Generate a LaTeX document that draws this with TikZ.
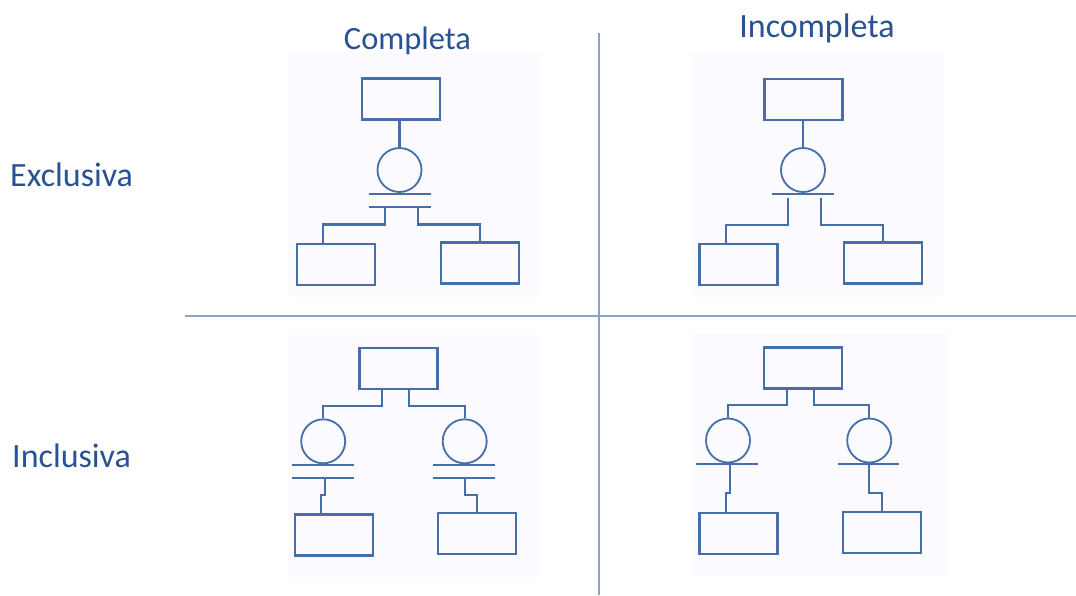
\documentclass[tikz,border=0pt]{standalone}
\usepackage{fontspec}
\setmainfont{Carlito}
\usepackage{tikz}
\usetikzlibrary{positioning, calc}
\definecolor{shapeblue}{RGB}{70, 110, 168}
\definecolor{labelblue}{RGB}{40, 82, 145}
\definecolor{ruleblue}{RGB}{136, 162, 202}
\definecolor{panelfill}{RGB}{250, 250, 255}

\begin{document}
\begin{tikzpicture}[
    x=1pt, y=-1pt,
    entity/.style={
        rectangle, draw=shapeblue, line width=2.2pt,
        minimum width=78pt, minimum height=41pt, inner sep=0pt
    },
    gen/.style={
        circle, draw=shapeblue, line width=1.8pt,
        minimum size=44pt, inner sep=0pt
    },
    bar/.style={draw=shapeblue, line width=2.2pt},
    link/.style={draw=shapeblue, line width=2.2pt},
    panel/.style={fill=panelfill, draw=none},
    divider/.style={draw=ruleblue, line width=2pt},
    heading/.style={font=\fontsize{34}{40}\selectfont, text=labelblue, inner sep=0pt}
]
\useasboundingbox (0,0) rectangle (1076,595);

% ==============================================================================
% GRID: PANELS, DIVIDERS & HEADINGS
% ==============================================================================
\fill[panel] (289,53) rectangle (540,297);
\fill[panel] (693,53) rectangle (943,297);
\fill[panel] (288,335) rectangle (540,577);
\fill[panel] (692,334) rectangle (948,576);

\draw[divider] (185,316) -- (1076,316);
\draw[divider] (599,33) -- (599,595);

\node[heading, font=\fontsize{32.5}{40}\selectfont, anchor=base] (colA) at (407.5,49) {Completa};
\node[heading, anchor=base] (colB) at (817,37) {Incompleta};
\node[heading, anchor=base west] (rowA) at (10,186) {Exclusiva};
\node[heading, anchor=base west] (rowB) at (12,467) {Inclusiva};

% ==============================================================================
% PANEL A: EXCLUSIVA / COMPLETA
% ==============================================================================
\node[entity] (aT) at (401,99) {};
\node[gen] (aC) at (399.5,170) {};
\node[entity] (aL) at (336.2,264.7) {};
\node[entity] (aR) at (480,263) {};

\coordinate (aB1) at ([yshift=-0.7pt]aC.south);
\coordinate (aB2) at ([yshift=-13.7pt]aC.south);
\draw[bar] ([xshift=-31pt]aB1) -- ([xshift=31pt]aB1);
\draw[bar] ([xshift=-31pt]aB2) -- ([xshift=31pt]aB2);

\draw[link] (aC.north |- aT.south) -- (aC.north);
\draw[link] ([xshift=-14.5pt]aB2) |- ([xshift=-13.5pt,yshift=18.6pt]aL.north) -- ([xshift=-13.5pt]aL.north);
\draw[link] ([xshift=18.8pt]aB2) |- ([yshift=17pt]aR.north) -- (aR.north);

% ==============================================================================
% PANEL B: EXCLUSIVA / INCOMPLETA
% ==============================================================================
\node[entity] (bT) at (803.4,99.2) {};
\node[gen] (bC) at (803,170) {};
\node[entity] (bL) at (738.5,264.7) {};
\node[entity] (bR) at (882.9,263) {};

\coordinate (bB1) at ([yshift=-0.7pt]bC.south);
\draw[bar] ([xshift=-31.5pt]bB1) -- ([xshift=30.5pt]bB1);

\draw[link] (bC.north |- bT.south) -- (bC.north);
\draw[link] ([xshift=-15.3pt,yshift=-4pt]bB1) |- ([xshift=-12.8pt,yshift=18.5pt]bL.north) -- ([xshift=-12.8pt]bL.north);
\draw[link] ([xshift=17.7pt,yshift=-4pt]bB1) |- ([yshift=16.8pt]bR.north) -- (bR.north);

% ==============================================================================
% PANEL C: INCLUSIVA / COMPLETA
% ==============================================================================
\node[entity] (cT) at (398.5,368.8) {};
\node[gen] (cC1) at (323.2,441.3) {};
\node[gen] (cC2) at (464.7,441.3) {};
\node[entity] (cL) at (334.2,535) {};
\node[entity] (cR) at (477,533.3) {};

\coordinate (cB1) at ([yshift=-1pt]cC1.south);
\coordinate (cB2) at ([yshift=-13.4pt]cC1.south);
\coordinate (cB3) at ([yshift=-1pt]cC2.south);
\coordinate (cB4) at ([yshift=-13.4pt]cC2.south);
\draw[bar] ([xshift=-31.5pt]cB1) -- ([xshift=30.5pt]cB1);
\draw[bar] ([xshift=-31.5pt]cB2) -- ([xshift=30.5pt]cB2);
\draw[bar] ([xshift=-31.4pt]cB3) -- ([xshift=30.3pt]cB3);
\draw[bar] ([xshift=-31.4pt]cB4) -- ([xshift=30.3pt]cB4);

\draw[link] ([xshift=-16.2pt]cT.south) |- ([yshift=12.6pt]cC1.north) -- (cC1.north);
\draw[link] ([xshift=10.8pt]cT.south) |- ([yshift=12.6pt]cC2.north) -- (cC2.north);
\draw[link] ([xshift=2.1pt]cB2) |- ([xshift=-13.2pt,yshift=18.6pt]cL.north) -- ([xshift=-13.2pt]cL.north);
\draw[link] (cB4) |- ([yshift=17pt]cR.north) -- (cR.north);

% ==============================================================================
% PANEL D: INCLUSIVA / INCOMPLETA
% ==============================================================================
\node[entity] (dT) at (802.9,368) {};
\node[gen] (dC1) at (728,440.5) {};
\node[gen] (dC2) at (869.2,440.5) {};
\node[entity] (dL) at (738.5,533.3) {};
\node[entity] (dR) at (881.7,532.2) {};

\coordinate (dB1) at ([yshift=-0.2pt]dC1.south);
\coordinate (dB2) at ([yshift=-0.2pt]dC2.south);
\draw[bar] ([xshift=-32pt]dB1) -- ([xshift=30.3pt]dB1);
\draw[bar] ([xshift=-31.5pt]dB2) -- ([xshift=30.1pt]dB2);

\draw[link] ([xshift=-16.2pt]dT.south) |- ([yshift=12.3pt]dC1.north) -- (dC1.north);
\draw[link] ([xshift=11.1pt]dT.south) |- ([yshift=12.3pt]dC2.north) -- (dC2.north);
\draw[link] ([xshift=2.3pt]dB1) |- ([xshift=-12.8pt,yshift=19pt]dL.north) -- ([xshift=-12.8pt]dL.north);
\draw[link] ([xshift=-0.5pt]dB2) |- ([yshift=17.4pt]dR.north) -- (dR.north);

\end{tikzpicture}
\end{document}
